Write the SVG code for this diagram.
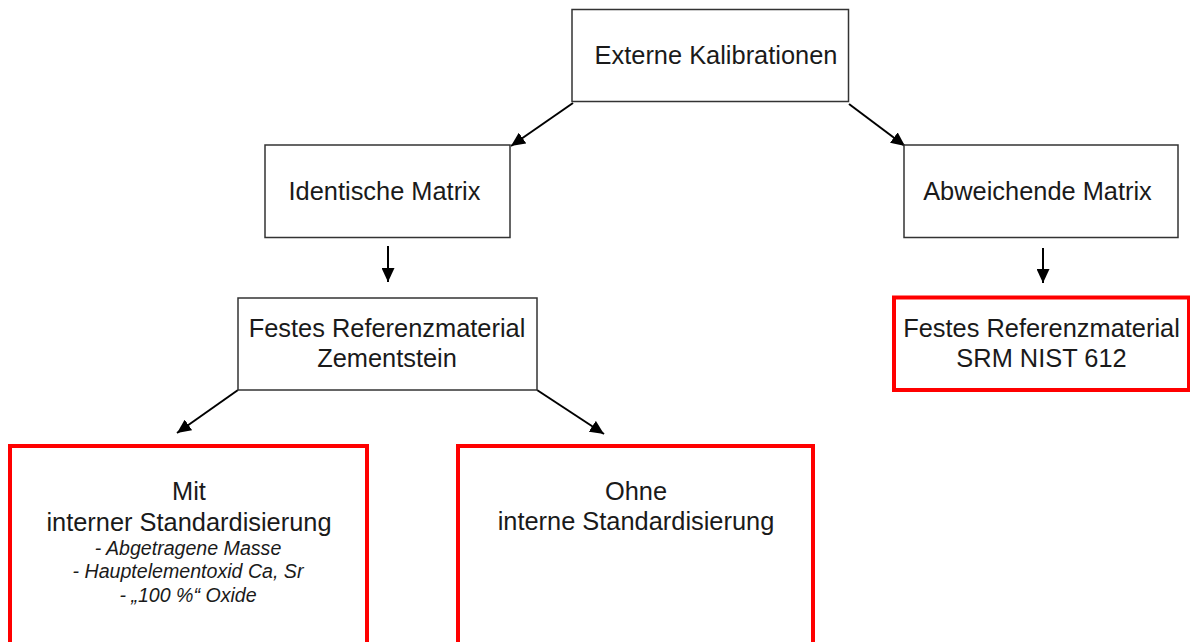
<svg xmlns="http://www.w3.org/2000/svg" width="1190" height="642" viewBox="0 0 1190 642">
<defs>
<style>
.box{fill:#fff;stroke:#333;stroke-width:1.5}
.red{fill:#fff;stroke:#ff0000;stroke-width:4}
.t{font-family:"Liberation Sans",Arial,sans-serif;font-size:25.4px;fill:#1a1a1a;text-anchor:middle}
.i{font-family:"Liberation Sans",Arial,sans-serif;font-size:19.6px;font-style:italic;fill:#1a1a1a;text-anchor:middle}
.c{stroke:#000;stroke-width:2;fill:none;marker-end:url(#ah)}
</style>
<marker id="ah" viewBox="0 0 14 13" refX="14" refY="6.5" markerWidth="14" markerHeight="13" markerUnits="userSpaceOnUse" orient="auto">
<path d="M0,0 L14,6.5 L0,13 Z" fill="#000"/>
</marker>
</defs>
<rect width="1190" height="642" fill="#fff"/>
<g id="connectors">
<line class="c" x1="573" y1="103" x2="511" y2="146"/>
<line class="c" x1="849" y1="104" x2="905" y2="146"/>
<line class="c" x1="388" y1="246" x2="388" y2="282"/>
<line class="c" x1="1043" y1="248" x2="1043" y2="283"/>
<line class="c" x1="238" y1="390" x2="177" y2="433"/>
<line class="c" x1="537" y1="390" x2="604" y2="434"/>
</g>
<g id="externe">
<rect class="box" x="572" y="9.5" width="276.5" height="92"/>
<text class="t" x="716" y="64">Externe Kalibrationen</text>
</g>
<g id="identische">
<rect class="box" x="265" y="145" width="245" height="92.5"/>
<text class="t" x="384.5" y="200">Identische Matrix</text>
</g>
<g id="abweichende">
<rect class="box" x="904" y="145" width="274" height="92.5"/>
<text class="t" x="1037.5" y="200">Abweichende Matrix</text>
</g>
<g id="zementstein">
<rect class="box" x="238" y="298" width="299" height="92"/>
<text class="t" x="387" y="337">Festes Referenzmaterial</text>
<text class="t" x="387" y="367">Zementstein</text>
</g>
<g id="nist">
<rect class="red" x="894" y="297.5" width="295" height="92.5"/>
<text class="t" x="1041.5" y="337">Festes Referenzmaterial</text>
<text class="t" x="1041.5" y="367">SRM NIST 612</text>
</g>
<g id="mit">
<rect class="red" x="10" y="446" width="357" height="230"/>
<text class="t" x="189" y="500">Mit</text>
<text class="t" x="189" y="531">interner Standardisierung</text>
<text class="i" x="188" y="555">- Abgetragene Masse</text>
<text class="i" x="188" y="578">- Hauptelementoxid Ca, Sr</text>
<text class="i" x="188" y="602">- „100 %“ Oxide</text>
</g>
<g id="ohne">
<rect class="red" x="458" y="446" width="355" height="230"/>
<text class="t" x="636" y="500">Ohne</text>
<text class="t" x="636" y="530">interne Standardisierung</text>
</g>
</svg>
